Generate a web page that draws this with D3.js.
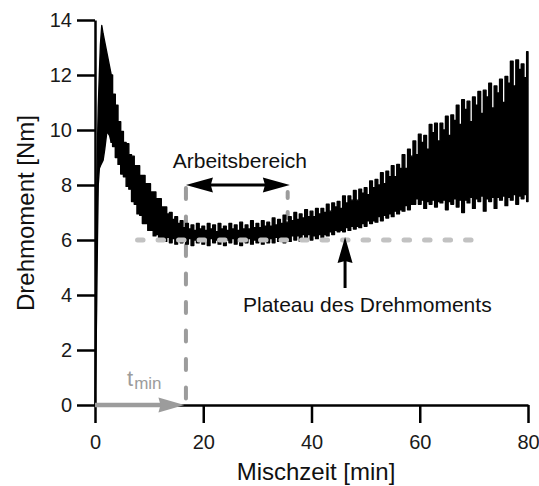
<!DOCTYPE html>
<html>
<head>
<meta charset="utf-8">
<script src="https://cdn.jsdelivr.net/npm/d3@7"></script>
<style>
  html, body { margin: 0; padding: 0; background: #fff; }
  svg { display: block; font-family: Arial, "Liberation Sans", Helvetica, sans-serif; }
</style>
</head>
<body>
<svg id="chart" width="539" height="486"></svg>
<script>
// Mixing time in minutes and the measured torque band (upper / lower extremes of the oscillation) in Nm
const minutes = [
  0, 0.15, 0.3, 0.45, 0.6, 0.8, 1.0, 1.25, 1.5, 1.8, 2.2, 2.7,
  3, 3.5, 4, 4.5, 5, 5.5, 6, 6.5, 7, 7.5, 8, 8.5, 9, 9.5, 10, 10.5, 11, 11.5,
  12, 12.5, 13, 13.5, 14, 14.5, 15, 15.5, 16, 16.5, 17, 17.5, 18, 18.5, 19, 19.5, 20, 20.5,
  21, 21.5, 22, 22.5, 23, 23.5, 24, 24.5, 25, 25.5, 26, 26.5, 27, 27.5, 28, 28.5, 29, 29.5, 30, 30.5,
  31, 31.5, 32, 32.5, 33, 33.5, 34, 34.5, 35, 35.5, 36, 36.5, 37, 37.5, 38, 38.5, 39, 39.5, 40,
  40.5, 41, 41.5, 42, 42.5, 43, 43.5, 44, 44.5, 45, 45.5, 46, 46.5, 47, 47.5, 48, 48.5, 49, 49.5, 50,
  50.5, 51, 51.5, 52, 52.5, 53, 53.5, 54, 54.5, 55, 55.5, 56, 56.5, 57, 57.5, 58, 58.5, 59, 59.5, 60,
  60.5, 61, 61.5, 62, 62.5, 63, 63.5, 64, 64.5, 65, 65.5, 66, 66.5, 67, 67.5, 68, 68.5, 69, 69.5, 70,
  70.5, 71, 71.5, 72, 72.5, 73, 73.5, 74, 74.5, 75, 75.5, 76, 76.5, 77, 77.5, 78, 78.5, 79, 79.5, 80
];
const torqueHigh = [
  0, 4.0, 7.5, 9.4, 10.8, 12.0, 13.1, 13.8, 13.5, 13.2, 12.8, 12.3,
  12.0, 11.3, 10.9, 10.3, 9.95, 9.55, 9.5, 9.1, 9.05, 8.7, 8.7, 8.35, 8.35, 8.05, 8.05, 7.75, 7.75, 7.5,
  7.5, 7.2, 7.2, 6.95, 7.0, 6.75, 6.85, 6.6, 6.7, 6.45, 6.6, 6.4, 6.55, 6.35, 6.6, 6.4, 6.5, 6.35,
  6.6, 6.4, 6.55, 6.3, 6.6, 6.4, 6.5, 6.35, 6.6, 6.4, 6.55, 6.35, 6.65, 6.4, 6.55, 6.4, 6.7, 6.45, 6.6, 6.45,
  6.7, 6.5, 6.65, 6.5, 6.8, 6.55, 6.75, 6.6, 6.9, 6.65, 6.85, 6.7, 7.0, 6.75, 6.95, 6.8, 7.1, 6.85, 7.05,
  6.85, 7.15, 6.95, 7.15, 7.0, 7.3, 7.05, 7.35, 7.2, 7.4, 7.15, 7.6, 7.35, 7.6, 7.45, 7.8, 7.45, 7.85, 7.7, 7.9,
  7.65, 8.15, 7.9, 8.2, 8.0, 8.45, 8.05, 8.5, 8.3, 8.7, 8.3, 8.75, 8.6, 9.1, 8.6, 9.3, 9.05, 9.6, 9.1, 9.85,
  9.55, 9.8, 9.3, 10.2, 9.9, 10.25, 9.6, 10.25, 10.0, 10.5, 9.8, 10.55, 10.35, 10.9, 10.2, 11.1, 10.75, 11.05, 10.3, 11.2,
  10.9, 11.4, 10.6, 11.45, 11.2, 11.7, 10.8, 11.6, 11.35, 11.85, 11.0, 11.95, 11.7, 12.5, 11.6, 12.55, 12.2, 12.4, 11.9, 12.85
];
const torqueLow = [
  0, 1.5, 3.5, 6.0, 8.0, 8.6, 8.7, 8.8, 8.9, 9.3, 9.95, 9.8,
  9.55, 9.4, 9.0, 8.75, 8.4, 8.3, 7.95, 7.85, 7.4, 7.3, 6.95, 6.9, 6.6, 6.6, 6.35, 6.35, 6.15, 6.2,
  6.0, 6.1, 5.95, 6.1, 5.9, 6.05, 5.85, 6.05, 5.9, 6.0, 5.85, 6.05, 5.8, 6.0, 5.9, 6.05, 5.85, 6.0,
  5.8, 6.05, 5.9, 6.0, 5.85, 6.05, 5.8, 6.0, 5.9, 6.05, 5.85, 6.0, 5.8, 6.05, 5.9, 6.05, 5.85, 6.0, 5.9, 6.05,
  5.85, 6.05, 5.9, 6.05, 5.9, 6.1, 5.95, 6.1, 5.9, 6.1, 5.95, 6.15, 6.0, 6.15, 5.95, 6.2, 6.05, 6.2, 6.0,
  6.15, 6.05, 6.2, 6.1, 6.2, 6.15, 6.3, 6.2, 6.35, 6.3, 6.35, 6.3, 6.45, 6.35, 6.5, 6.4, 6.5, 6.45, 6.6, 6.5,
  6.7, 6.6, 6.7, 6.65, 6.85, 6.7, 6.9, 6.8, 6.95, 6.85, 7.05, 6.95, 7.1, 7.05, 7.25, 7.1, 7.3, 7.3, 7.5, 7.3,
  7.45, 7.15, 7.4, 7.3, 7.45, 7.2, 7.4, 7.35, 7.45, 7.1, 7.4, 7.3, 7.5, 7.2, 7.45, 7.0, 7.45, 7.35, 7.55, 7.15,
  7.5, 7.4, 7.6, 7.05, 7.5, 7.4, 7.55, 7.15, 7.55, 7.45, 7.6, 7.25, 7.55, 7.45, 7.65, 7.3, 7.6, 7.5, 7.65, 7.4
];

const xTicks = [0, 20, 40, 60, 80];
const yTicks = [0, 2, 4, 6, 8, 10, 12, 14];

// Annotation values
const plateauTorque = 6;            // torque plateau level (Nm)
const plateauSpan = [7.4, 69.8];    // extent of the plateau guide line (min)
const tMin = 16.8;                  // minimum mixing time (min)
const workingRange = [16.8, 36];    // working range (min)
const workingLevel = 8;             // height of the working-range arrow (Nm)
const workingEndTop = 7.75;         // top of the dashed mark at the end of the working range
const workingEndMark = 35.6;
const plateauPointer = 46.2;        // where the plateau label points (min)
const startupEnd = 3;               // end of the start-up peak (min)

const svg = d3.select("#chart");
const x = d3.scaleLinear().domain([0, 80]).range([95, 528]);
const y = d3.scaleLinear().domain([0, 14]).range([405, 20]);

const greyDash = "#9c9c9c";
const greyLight = "#c2c2c2";
const ink = "#000";

// vertical dashed line at t_min (drawn underneath the torque band)
svg.append("path")
  .attr("d", d3.line()([[x(tMin), y(0)], [x(tMin), y(workingLevel)]]))
  .attr("stroke", greyDash).attr("stroke-width", 4)
  .attr("stroke-linecap", "round")
  .attr("stroke-dasharray", "11,17.5")
  .attr("stroke-dashoffset", 22)
  .attr("fill", "none");

// dashed mark at the end of the working range
svg.append("path")
  .attr("d", d3.line()([[x(workingEndMark), y(workingEndTop)], [x(workingEndMark), y(6.6)]]))
  .attr("stroke", greyDash).attr("stroke-width", 4)
  .attr("stroke-linecap", "round")
  .attr("stroke-dasharray", "6,14")
  .attr("fill", "none");

// torque band: start-up peak drawn with straight segments, the oscillating part as steps
const idx = minutes.map((d, i) => i);
const startIdx = idx.filter(i => minutes[i] <= startupEnd);
const restIdx = idx.filter(i => minutes[i] >= startupEnd);
const bandArea = curve => d3.area()
  .curve(curve)
  .x(i => x(minutes[i]))
  .y0(i => y(torqueLow[i]))
  .y1(i => y(torqueHigh[i]));
[[startIdx, d3.curveLinear], [restIdx, d3.curveStep]].forEach(([ids, curve]) => {
  svg.append("path")
    .attr("d", bandArea(curve)(ids))
    .attr("fill", ink)
    .attr("stroke", ink)
    .attr("stroke-width", 1.4)
    .attr("stroke-linejoin", "round");
});

// plateau guide line (on top of the band)
svg.append("path")
  .attr("d", d3.line()([[x(plateauSpan[0]), y(plateauTorque)], [x(plateauSpan[1]), y(plateauTorque)]]))
  .attr("stroke", greyLight).attr("stroke-width", 5)
  .attr("stroke-linecap", "round")
  .attr("stroke-dasharray", "5.5,15")
  .attr("stroke-dashoffset", -2.5)
  .attr("fill", "none");

// arrowhead helper: tip at (tx, ty), pointing in direction (dx, dy)
function arrowHead(tx, ty, dx, dy, len, half) {
  const px = -dy, py = dx;
  return `M${tx},${ty}L${tx - dx * len + px * half},${ty - dy * len + py * half}` +
         `L${tx - dx * len * 0.92},${ty - dy * len * 0.92}` +
         `L${tx - dx * len - px * half},${ty - dy * len - py * half}Z`;
}

// working range double arrow
const wy = y(workingLevel);
const wx0 = x(workingRange[0]), wx1 = x(workingRange[1]);
svg.append("line")
  .attr("x1", wx0 + 10).attr("x2", wx1 - 10).attr("y1", wy).attr("y2", wy)
  .attr("stroke", ink).attr("stroke-width", 3);
svg.append("path").attr("d", arrowHead(wx0, wy, -1, 0, 27, 7.5)).attr("fill", ink);
svg.append("path").attr("d", arrowHead(wx1, wy, 1, 0, 27, 7.5)).attr("fill", ink);
svg.append("text")
  .attr("x", (wx0 + wx1) / 2 + 2).attr("y", 168)
  .attr("text-anchor", "middle")
  .attr("font-size", 21).attr("fill", "#111")
  .text("Arbeitsbereich");

// plateau pointer arrow and label
const px0 = x(plateauPointer);
const tipY = y(plateauTorque) - 3;
svg.append("line")
  .attr("x1", px0).attr("x2", px0).attr("y1", tipY + 12).attr("y2", 288)
  .attr("stroke", ink).attr("stroke-width", 3);
svg.append("path").attr("d", arrowHead(px0, tipY, 0, -1, 26, 7.5)).attr("fill", ink);
svg.append("text")
  .attr("x", 243).attr("y", 312)
  .attr("font-size", 21).attr("fill", "#111")
  .text("Plateau des Drehmoments");

// axes
const xAxis = svg.append("g")
  .attr("transform", `translate(0,${y(0)})`)
  .call(d3.axisBottom(x).tickValues(xTicks).tickSize(18).tickSizeOuter(0).tickPadding(12));
const yAxis = svg.append("g")
  .attr("transform", `translate(${x(0)},0)`)
  .call(d3.axisLeft(y).tickValues(yTicks).tickSize(18).tickSizeOuter(0).tickPadding(5));
[xAxis, yAxis].forEach(g => {
  g.select(".domain").attr("stroke", ink).attr("stroke-width", 2.5);
  g.selectAll(".tick line").attr("stroke", ink).attr("stroke-width", 2.5);
  g.selectAll(".tick text")
    .attr("fill", "#1a1a1a")
    .style("font-size", "20px")
    .style("font-family", 'Arial, "Liberation Sans", Helvetica, sans-serif');
});

// t_min arrow along the time axis
const ay = y(0);
const tipX = x(tMin) - 1.5;
svg.append("line")
  .attr("x1", x(0)).attr("x2", tipX - 20).attr("y1", ay).attr("y2", ay)
  .attr("stroke", greyDash).attr("stroke-width", 4.5);
svg.append("path").attr("d", arrowHead(tipX, ay, 1, 0, 26, 7.5)).attr("fill", greyDash);
const tLabel = svg.append("text")
  .attr("x", 127).attr("y", 386)
  .attr("fill", greyDash);
tLabel.append("tspan").attr("font-size", 22).text("t");
tLabel.append("tspan").attr("font-size", 17).attr("dy", 3).attr("dx", 1).text("min");

// axis titles
svg.append("text")
  .attr("x", 316).attr("y", 480)
  .attr("text-anchor", "middle")
  .attr("font-size", 24).attr("fill", "#111")
  .text("Mischzeit [min]");
svg.append("text")
  .attr("transform", "translate(34,213) rotate(-90)")
  .attr("text-anchor", "middle")
  .attr("font-size", 24).attr("fill", "#111")
  .text("Drehmoment [Nm]");
</script>
</body>
</html>
